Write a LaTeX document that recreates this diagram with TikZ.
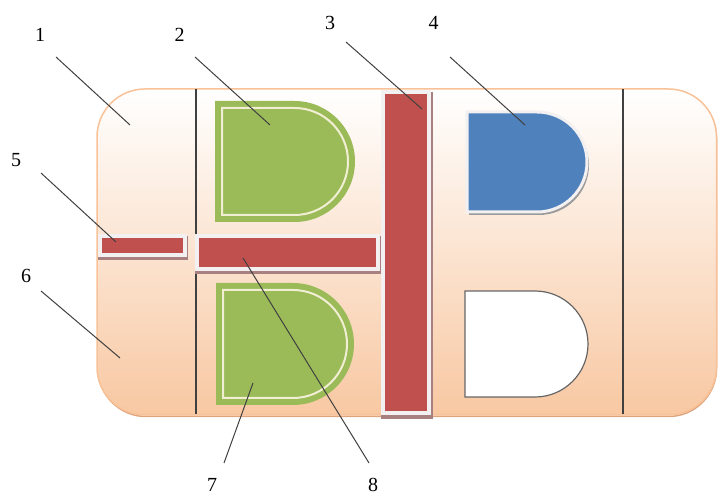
\documentclass[tikz,border=0pt]{standalone}
\usepackage{fontspec}
\setmainfont{Liberation Serif}
\definecolor{peach}{HTML}{F8C8A2}
\definecolor{peachline}{HTML}{F9C197}
\definecolor{peachshadow}{HTML}{DDA57E}
\definecolor{gfill}{HTML}{9BBB59}
\definecolor{gline}{HTML}{F1EED3}
\definecolor{rfill}{HTML}{C0504D}
\definecolor{rshadow}{HTML}{A98080}
\definecolor{bfill}{HTML}{4F81BD}
\definecolor{frame}{HTML}{F2F0F0}
\definecolor{leader}{HTML}{404040}
\definecolor{dshadow}{HTML}{9A9A9A}
\begin{document}
\begin{tikzpicture}[x=1pt,y=-1pt,
  lbl/.style={font=\fontsize{20}{20}\selectfont, inner sep=0pt, anchor=center},
  leaderline/.style={draw=leader, line width=1pt},
  divider/.style={draw=leader, line width=1.4pt},
  redbar/.style={fill=rfill, draw=frame, line width=3.5pt},
  barshadow/.style={fill=rshadow},
  greend/.style={fill=gfill},
  greeninner/.style={draw=gline, line width=2pt},
  blued/.style={fill=bfill, draw=frame, line width=3pt},
  whited/.style={fill=white, draw=leader!80, line width=1.2pt},
  dshade/.style={fill=dshadow}]
\useasboundingbox (0,0) rectangle (718,494);
% background
\draw[draw=peachshadow, line width=1.5pt, rounded corners=48pt] (98,90.5) rectangle (716.5,416.5);
\shade[top color=white, bottom color=peach, draw=peachline, line width=1.5pt, rounded corners=48pt] (97,89) rectangle (716.5,415);
\draw[divider] (196,89.5) -- (196,414.5);
\draw[divider] (623,89.5) -- (623,414.5);
% green D shapes
\fill[greend] (215,101) -- (294.5,101) arc[start angle=-90,end angle=90,radius=60.5] -- (215,222) -- cycle;
\draw[greeninner] (222,108) -- (294.5,108) arc[start angle=-90,end angle=90,radius=53.5] -- (222,215) -- cycle;
\fill[greend] (216,283) -- (293,283) arc[start angle=-90,end angle=90,radius=61] -- (216,405) -- cycle;
\draw[greeninner] (223,290) -- (293,290) arc[start angle=-90,end angle=90,radius=54] -- (223,398) -- cycle;
% blue D
\fill[dshade] (469,115) -- (539,115) arc[start angle=-90,end angle=90,radius=50] -- (469,215) -- cycle;
\path[blued] (467,112) -- (537,112) arc[start angle=-90,end angle=90,radius=50] -- (467,212) -- cycle;
% white D
\path[whited] (465,291) -- (535,291) arc[start angle=-90,end angle=90,radius=53] -- (465,397) -- cycle;
% red bars
\fill[barshadow] (98,236) rectangle (188,260);
\path[redbar] (100,236) rectangle (185,255);
\fill[barshadow] (195,236) rectangle (381,274);
\path[redbar] (197,236) rectangle (378,269);
\fill[barshadow] (381,92) rectangle (433,419);
\path[redbar] (383,92) rectangle (429,413);
% labels
\node[lbl] (l1) at (40,35) {1};
\node[lbl] (l2) at (179.5,35) {2};
\node[lbl] (l3) at (330,23) {3};
\node[lbl] (l4) at (433.5,23) {4};
\node[lbl] (l5) at (16,160) {5};
\node[lbl] (l6) at (26,276) {6};
\node[lbl] (l7) at (212,484.5) {7};
\node[lbl] (l8) at (373,484.5) {8};
% leader ends
\coordinate (s1) at (56,57);   \coordinate (e1) at (130,125);
\coordinate (s2) at (195,57);  \coordinate (e2) at (270,125);
\coordinate (s3) at (346,42);  \coordinate (e3) at (422,109);
\coordinate (s4) at (450,57);  \coordinate (e4) at (525,125);
\coordinate (s5) at (41,173);  \coordinate (e5) at (116,242);
\coordinate (s6) at (41,291);  \coordinate (e6) at (120,358);
\coordinate (s7) at (224,463); \coordinate (e7) at (253,383);
\coordinate (s8) at (369,463); \coordinate (e8) at (243,258);
\draw[leaderline] (s1) -- (e1);
\draw[leaderline] (s2) -- (e2);
\draw[leaderline] (s3) -- (e3);
\draw[leaderline] (s4) -- (e4);
\draw[leaderline] (s5) -- (e5);
\draw[leaderline] (s6) -- (e6);
\draw[leaderline] (s7) -- (e7);
\draw[leaderline] (s8) -- (e8);
\end{tikzpicture}
\end{document}
